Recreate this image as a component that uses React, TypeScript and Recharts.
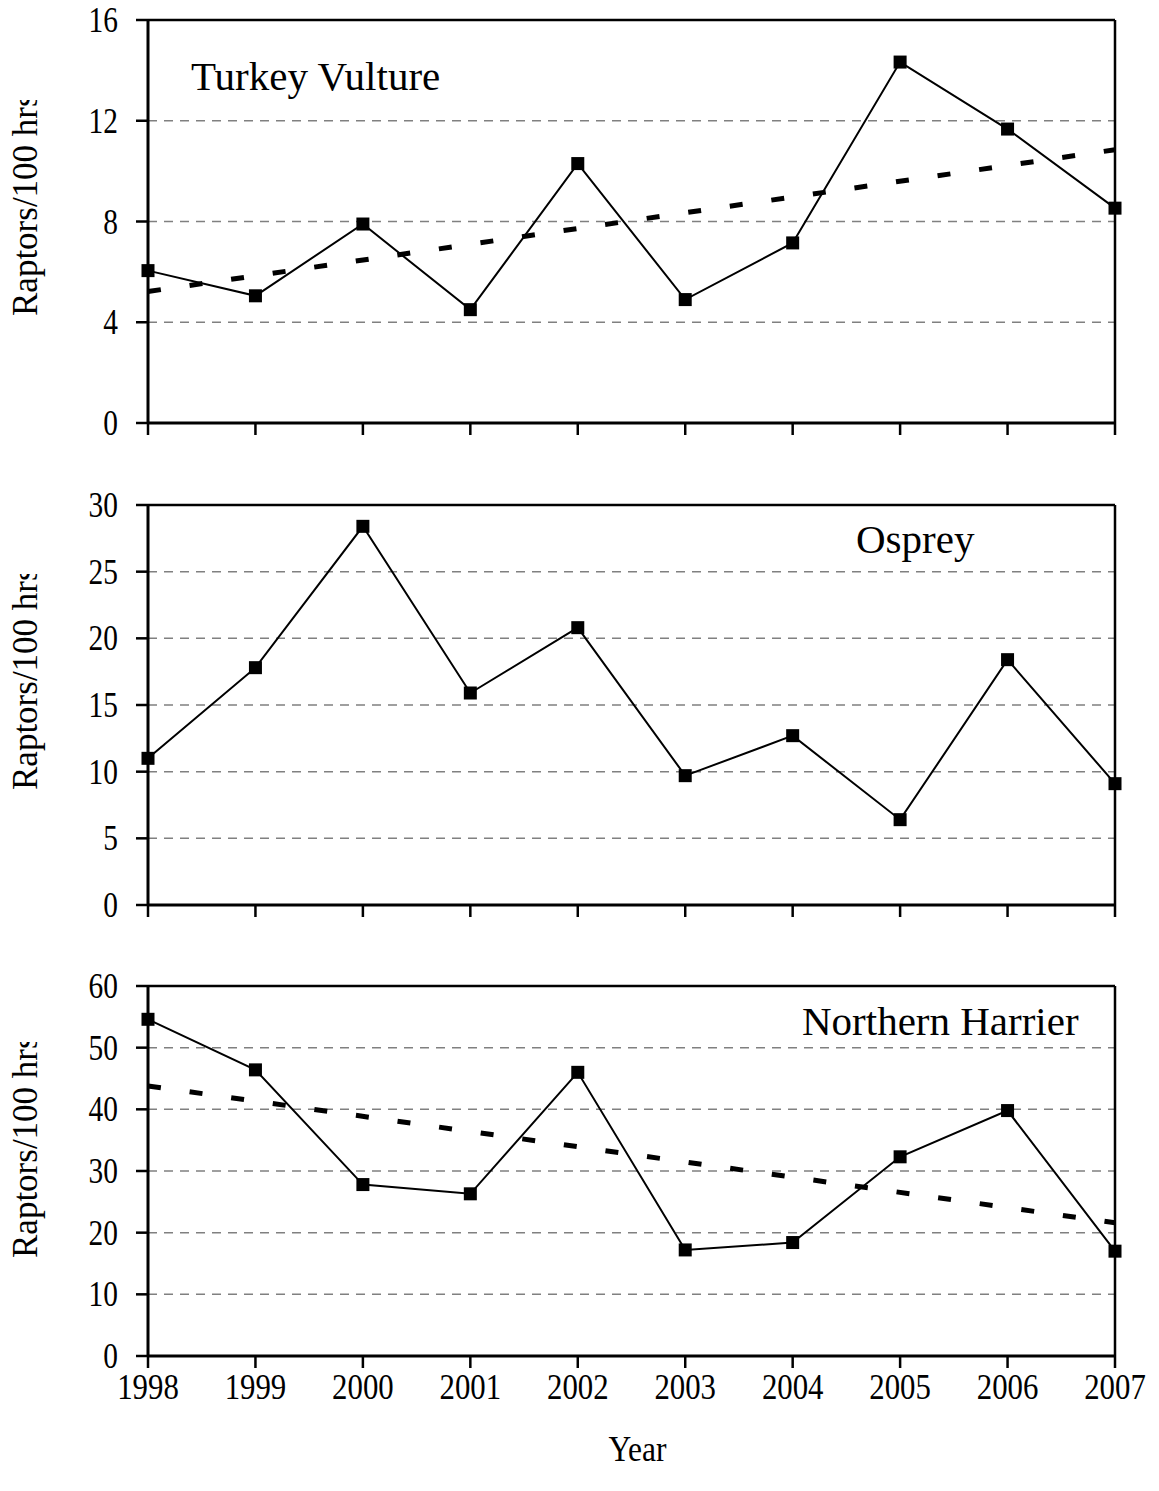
import React from "react";
import {
  LineChart,
  Line,
  XAxis,
  YAxis,
  CartesianGrid,
  ReferenceLine,
} from "recharts";

const years = [1998, 1999, 2000, 2001, 2002, 2003, 2004, 2005, 2006, 2007];

const turkeyVulture = [6.05, 5.05, 7.9, 4.5, 10.3, 4.9, 7.15, 14.33, 11.67, 8.53];
const turkeyVultureTrend = [5.22, 10.85];
const turkeyVultureTicks = [0, 4, 8, 12, 16];

const osprey = [11.0, 17.8, 28.4, 15.9, 20.8, 9.7, 12.7, 6.4, 18.4, 9.1];
const ospreyTicks = [0, 5, 10, 15, 20, 25, 30];

const northernHarrier = [54.6, 46.4, 27.8, 26.3, 46.0, 17.2, 18.4, 32.3, 39.8, 17.0];
const northernHarrierTrend = [43.8, 21.6];
const northernHarrierTicks = [0, 10, 20, 30, 40, 50, 60];

const FONT = '"Liberation Serif", "Times New Roman", serif';
const serif = { fontFamily: FONT };

function buildRows(values: number[], trend?: number[]) {
  return years.map((year, i) => ({
    year,
    value: values[i],
    trend:
      trend && i === 0 ? trend[0] : trend && i === years.length - 1 ? trend[1] : null,
  }));
}

const SquareDot = (props: any) => {
  const { cx, cy, index } = props;
  if (cx == null || cy == null) return <g key={index} />;
  return (
    <rect key={index} x={cx - 6.5} y={cy - 6.5} width={13} height={13} fill="#000" />
  );
};

// the source picture is a little taller than wide, so text is squeezed sideways
const YTick = (props: any) => {
  const { x, y, payload } = props;
  return (
    <text
      transform={`translate(${x} ${y}) scale(0.84 1)`}
      dy={12}
      textAnchor="end"
      fontSize={35}
      style={serif}
      fill="#000"
    >
      {payload.value}
    </text>
  );
};

const makeXTick = (show: boolean) => (props: any) => {
  const { x, y, payload } = props;
  if (!show) return <g />;
  return (
    <text
      transform={`translate(${x} ${y}) scale(0.88 1)`}
      dy={25}
      textAnchor="middle"
      fontSize={35}
      style={serif}
      fill="#000"
    >
      {payload.value}
    </text>
  );
};

type PanelProps = {
  id: string;
  rows: any[];
  ticks: number[];
  title: string;
  titleX: number;
  titleY: number;
  height: number;
  marginTop: number;
  marginBottom: number;
  showYears: boolean;
  labelBottom: number;
  hasTrend: boolean;
};

function Panel(p: PanelProps) {
  const max = p.ticks[p.ticks.length - 1];
  const axisH = p.showYears ? 110 : 30;
  const clipTop = p.labelBottom - 216;

  return (
    <div style={{ position: "relative", width: 1159, height: p.height }}>
      <LineChart
        width={1159}
        height={p.height}
        data={p.rows}
        margin={{ top: p.marginTop, right: 44, bottom: p.marginBottom, left: 0 }}
      >
        <CartesianGrid
          vertical={false}
          stroke="#808080"
          strokeWidth={1.5}
          strokeDasharray="9 7"
        />
        <XAxis
          dataKey="year"
          type="number"
          domain={[1998, 2007]}
          ticks={years}
          height={axisH}
          tickSize={12}
          tickMargin={6}
          axisLine={{ stroke: "#000", strokeWidth: 3 }}
          tickLine={{ stroke: "#000", strokeWidth: 2.5 }}
          tick={makeXTick(p.showYears)}
          interval={0}
          label={
            p.showYears
              ? {
                  content: (lp: any) => {
                    const vb = lp.viewBox;
                    const cx = vb.x + vb.width / 2 + 6;
                    const cy = vb.y + 105;
                    return (
                      <text
                        transform={`translate(${cx} ${cy}) scale(0.9 1)`}
                        textAnchor="middle"
                        fontSize={35}
                        style={serif}
                        fill="#000"
                      >
                        Year
                      </text>
                    );
                  },
                }
              : undefined
          }
        />
        <YAxis
          type="number"
          domain={[0, max]}
          ticks={p.ticks}
          width={148}
          tickSize={12}
          tickMargin={18}
          axisLine={{ stroke: "#000", strokeWidth: 3 }}
          tickLine={{ stroke: "#000", strokeWidth: 2.5 }}
          tick={YTick}
          interval={0}
          label={{
            content: () => (
              <g>
                <defs>
                  <clipPath id={"clip-" + p.id}>
                    <rect x={0} y={clipTop} width={70} height={p.height} />
                  </clipPath>
                </defs>
                <g clipPath={`url(#clip-${p.id})`}>
                  <text
                    x={37}
                    y={p.labelBottom}
                    transform={`rotate(-90, 37, ${p.labelBottom})`}
                    textAnchor="start"
                    fontSize={35}
                    style={serif}
                    fill="#000"
                  >
                    Raptors/100 hrs
                  </text>
                </g>
              </g>
            ),
          }}
        />
        <ReferenceLine y={max} stroke="#000" strokeWidth={2.5} />
        <ReferenceLine x={2007} stroke="#000" strokeWidth={2.5} />
        <Line
          dataKey="value"
          stroke="#000"
          strokeWidth={2}
          dot={SquareDot}
          activeDot={false}
          isAnimationActive={false}
        />
        {p.hasTrend && (
          <Line
            dataKey="trend"
            stroke="#000"
            strokeWidth={5}
            strokeDasharray="13 29"
            dot={false}
            activeDot={false}
            connectNulls
            isAnimationActive={false}
          />
        )}
      </LineChart>
      <svg
        width={1159}
        height={p.height}
        style={{ position: "absolute", left: 0, top: 0, pointerEvents: "none" }}
      >
        <text x={p.titleX} y={p.titleY} fontSize={41} style={serif} fill="#000">
          {p.title}
        </text>
      </svg>
    </div>
  );
}

export default function App() {
  return (
    <div style={{ width: 1159, height: 1491, background: "#fff", fontFamily: FONT }}>
      <style>{"body{margin:0;background:#fff}"}</style>
      <Panel
        id="tv"
        rows={buildRows(turkeyVulture, turkeyVultureTrend)}
        ticks={turkeyVultureTicks}
        title="Turkey Vulture"
        titleX={191}
        titleY={90}
        height={480}
        marginTop={20}
        marginBottom={27}
        showYears={false}
        labelBottom={316}
        hasTrend
      />
      <Panel
        id="os"
        rows={buildRows(osprey)}
        ticks={ospreyTicks}
        title="Osprey"
        titleX={856}
        titleY={73}
        height={480}
        marginTop={25}
        marginBottom={25}
        showYears={false}
        labelBottom={310}
        hasTrend={false}
      />
      <Panel
        id="nh"
        rows={buildRows(northernHarrier, northernHarrierTrend)}
        ticks={northernHarrierTicks}
        title="Northern Harrier"
        titleX={802}
        titleY={75}
        height={531}
        marginTop={26}
        marginBottom={25}
        showYears
        labelBottom={298}
        hasTrend
      />
    </div>
  );
}
